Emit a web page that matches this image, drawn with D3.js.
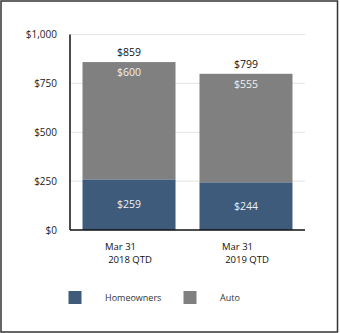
<!DOCTYPE html>
<html>
<head>
<meta charset="utf-8">
<script src="https://cdn.jsdelivr.net/npm/d3@7"></script>
<style>
  html, body { margin: 0; padding: 0; background: #fff; }
  svg { display: block; font-family: "Open Sans", sans-serif; }
</style>
</head>
<body>
<svg id="chart" width="340" height="333"></svg>
<script>
const categories = [["Mar 31", "2018 QTD"], ["Mar 31", "2019 QTD"]];
const seriesNames = ["Homeowners", "Auto"];
const homeowners = [259, 244];
const auto = [600, 555];
const totals = [859, 799];
const yTicks = [0, 250, 500, 750, 1000];
const colors = ["#3e5b7b", "#808080"];

const svg = d3.select("#chart");

// outer frame
svg.append("rect").attr("x", 1).attr("y", 1).attr("width", 336.5).attr("height", 331)
  .attr("fill", "none").attr("stroke", "#333").attr("stroke-width", 1.5);

const x0 = 70, x1 = 305, yTop = 34.5, yBot = 230;
const x = d3.scaleBand().domain(d3.range(categories.length)).range([x0, x1])
  .paddingInner(0.205).paddingOuter(0.107);
const y = d3.scaleLinear().domain([0, 1000]).range([yBot, yTop]);
const fmt = v => "$" + d3.format(",")(v);

// gridlines
svg.append("g").selectAll("line").data(yTicks.filter(t => t > 0)).join("line")
  .attr("x1", x0).attr("x2", x1).attr("y1", d => y(d)).attr("y2", d => y(d))
  .attr("stroke", "#e4e4e4").attr("stroke-width", 1);

// y axis labels
const yAxis = d3.axisLeft(y).tickValues(yTicks).tickFormat(fmt).tickSize(0).tickPadding(13);
const gy = svg.append("g").attr("transform", `translate(${x0},0)`).call(yAxis);
gy.select(".domain").remove();
gy.selectAll("text").attr("font-size", 10).attr("fill", "#222").attr("font-family", "Open Sans, sans-serif");

// stacked data
const rows = categories.map((c, i) => ({ i, Homeowners: homeowners[i], Auto: auto[i] }));
const stack = d3.stack().keys(seriesNames)(rows);

svg.append("g").selectAll("g").data(stack).join("g")
  .attr("fill", (d, k) => colors[k])
  .selectAll("rect").data(d => d).join("rect")
  .attr("x", d => x(d.data.i)).attr("width", x.bandwidth())
  .attr("y", d => y(d[1])).attr("height", d => y(d[0]) - y(d[1]));

// homeowners labels (middle)
svg.append("g").selectAll("text").data(stack[0]).join("text")
  .attr("x", d => x(d.data.i) + x.bandwidth() / 2)
  .attr("y", d => (y(d[0]) + y(d[1])) / 2).attr("dy", "0.35em")
  .attr("text-anchor", "middle").attr("font-size", 10.5).attr("fill", "#eef0f4")
  .text(d => fmt(d[1] - d[0]));

// auto labels (near top)
svg.append("g").selectAll("text").data(stack[1]).join("text")
  .attr("x", d => x(d.data.i) + x.bandwidth() / 2)
  .attr("y", d => y(d[1]) + 10.5).attr("dy", "0.35em")
  .attr("text-anchor", "middle").attr("font-size", 10.5).attr("fill", "#f0f0f0")
  .text(d => fmt(d[1] - d[0]));

// totals above
svg.append("g").selectAll("text").data(totals).join("text")
  .attr("x", (d, i) => x(i) + x.bandwidth() / 2)
  .attr("y", d => y(d) - 9.5).attr("dy", "0.35em")
  .attr("text-anchor", "middle").attr("font-size", 10.5).attr("fill", "#111")
  .text(d => fmt(d));

// axes lines
svg.append("line").attr("x1", x0).attr("x2", x0).attr("y1", yTop).attr("y2", yBot)
  .attr("stroke", "#111").attr("stroke-width", 1.5);
svg.append("line").attr("x1", x0).attr("x2", x1).attr("y1", yBot).attr("y2", yBot)
  .attr("stroke", "#111").attr("stroke-width", 1.5);

// category labels
const cl = svg.append("g").selectAll("g").data(categories).join("g");
cl.append("text")
  .attr("x", (d, i) => x(i) + x.bandwidth() / 2 - 8.5).attr("y", 247).attr("dy", "0.35em")
  .attr("text-anchor", "middle").attr("font-size", 9.5).attr("fill", "#111").text(d => d[0]);
cl.append("text")
  .attr("x", (d, i) => x(i) + x.bandwidth() / 2 + 1).attr("y", 260).attr("dy", "0.35em")
  .attr("text-anchor", "middle").attr("font-size", 9.5).attr("fill", "#111").text(d => d[1]);

// legend
const legendX = [68.5, 183.5];
const lg = svg.append("g").selectAll("g").data(seriesNames).join("g")
  .attr("transform", (d, i) => `translate(${legendX[i]},291)`);
lg.append("rect").attr("width", 13).attr("height", 13).attr("fill", (d, i) => colors[i]);
lg.append("text").attr("x", 36.5).attr("y", 6.8).attr("dy", "0.35em")
  .attr("font-size", 9).attr("fill", "#333").text(d => d);
</script>
</body>
</html>
